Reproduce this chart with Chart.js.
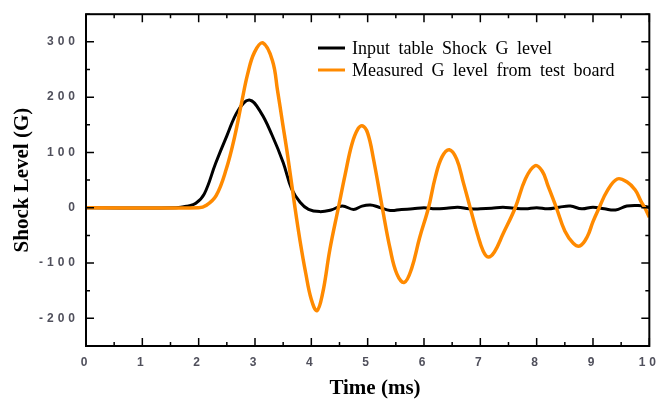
<!DOCTYPE html>
<html>
<head>
<meta charset="utf-8">
<script src="https://cdn.jsdelivr.net/npm/chart.js@4.4.1/dist/chart.umd.min.js"></script>
<style>
html, body { margin: 0; padding: 0; background: #fff; }
#wrap { width: 665px; height: 403px; }
</style>
</head>
<body>
<div id="wrap"><canvas id="shock"></canvas></div>
<script>
// values
var timeInput = [0, 1.6, 1.8, 1.95, 2.1, 2.3, 2.5, 2.7, 2.9, 3.1, 3.3, 3.5, 3.65, 3.8, 3.95, 4.15, 4.35, 4.55, 4.75, 4.9,
    5.05, 5.2, 5.4, 5.6, 5.8, 6.0, 6.2, 6.4, 6.6, 6.8, 7.0, 7.2, 7.4, 7.6, 7.8, 8.0, 8.2, 8.4, 8.6, 8.8,
    9.0, 9.2, 9.4, 9.6, 9.8, 10];
var gInput = [0, 0, 3, 8, 25, 80, 130, 176, 195, 173, 132, 82, 34, 10, -3, -7, -4, 3, -3, 3,
    5, 1, -5, -3, -2, 0, -2, -1, 1, -2, -2, -1, 1, -1, -2, 0, -2, 1, 3, -2,
    1, -2, -4, 3, 4, 1];

var timeMeasured = [0, 2.0, 2.13, 2.31, 2.49, 2.64, 2.76, 2.87, 2.99, 3.14, 3.31, 3.4, 3.49, 3.58, 3.71,
    3.8, 3.9, 4.0, 4.1, 4.2, 4.33, 4.48, 4.6, 4.72, 4.83, 4.91, 5.0, 5.1, 5.26, 5.4,
    5.52, 5.65, 5.78, 5.92, 6.08, 6.2, 6.32, 6.45, 6.58, 6.7, 6.82, 6.95, 7.05, 7.14, 7.25,
    7.4, 7.62, 7.8, 7.97, 8.1, 8.2, 8.35, 8.5, 8.65, 8.77, 8.9, 9.0, 9.11, 9.25, 9.43,
    9.6, 9.75, 9.85, 9.92, 10];
var gMeasured = [0, 0, 4, 22, 70, 129, 189, 242, 281, 298, 266, 212, 153, 94, 0,
    -60, -118, -166, -186, -155, -75, 0, 60, 115, 143, 148, 135, 90, 0, -75,
    -120, -135, -110, -55, 0, 55, 92, 105, 88, 45, 0, -48, -78, -89, -80,
    -48, 0, 52, 76, 66, 40, 0, -42, -64, -69, -52, -25, 0, 30, 52,
    47, 32, 12, 0, -17];

var xTicks = [0, 1, 2, 3, 4, 5, 6, 7, 8, 9, 10];
var yTicks = [-200, -100, 0, 100, 200, 300];
var seriesNames = ['Input table Shock G level', 'Measured G level from test board'];
var seriesColors = ['#000000', '#ff8a00'];
var xTitle = 'Time (ms)';
var yTitle = 'Shock Level (G)';

function pairs(xs, ys) {
    return xs.map(function (x, i) { return { x: x, y: ys[i] }; });
}

function setTicks(list) {
    return function (scale) {
        scale.ticks = list.map(function (v) { return { value: v }; });
    };
}

// box, inward ticks, axis titles and legend
var frame = {
    id: 'frame',
    beforeDraw: function (chart) {
        chart.ctx.letterSpacing = '4px';
    },
    afterDraw: function (chart) {
        var ctx = chart.ctx, a = chart.chartArea;
        var xs = chart.scales.x, ys = chart.scales.y;
        ctx.save();
        ctx.letterSpacing = '0px';
        ctx.strokeStyle = '#000';
        ctx.lineWidth = 2;
        ctx.strokeRect(a.left, a.top, a.right - a.left, a.bottom - a.top);

        ctx.lineWidth = 1.5;
        ctx.beginPath();
        xTicks.forEach(function (v, i) {
            var p = xs.getPixelForValue(v);
            ctx.moveTo(p, a.bottom); ctx.lineTo(p, a.bottom - 8);
            ctx.moveTo(p, a.top); ctx.lineTo(p, a.top + 8);
            if (i < xTicks.length - 1) {
                var m = xs.getPixelForValue((v + xTicks[i + 1]) / 2);
                ctx.moveTo(m, a.bottom); ctx.lineTo(m, a.bottom - 4);
                ctx.moveTo(m, a.top); ctx.lineTo(m, a.top + 4);
            }
        });
        var step = yTicks[1] - yTicks[0];
        for (var v = yTicks[0] - step / 2; v <= ys.max; v += step / 2) {
            var p = ys.getPixelForValue(v);
            var len = (yTicks.indexOf(v) >= 0) ? 8 : 4;
            ctx.moveTo(a.left, p); ctx.lineTo(a.left + len, p);
            ctx.moveTo(a.right, p); ctx.lineTo(a.right - len, p);
        }
        ctx.stroke();

        ctx.fillStyle = '#000';
        ctx.font = 'bold 21px "Liberation Serif"';
        ctx.textAlign = 'center';
        ctx.textBaseline = 'middle';
        ctx.fillText(xTitle, 375, 389);
        ctx.save();
        ctx.translate(23, (a.top + a.bottom) / 2);
        ctx.rotate(-Math.PI / 2);
        ctx.fillText(yTitle, 0, 0);
        ctx.restore();

        ctx.font = '18px "Liberation Serif"';
        ctx.textAlign = 'left';
        ctx.wordSpacing = '4px';
        ctx.lineWidth = 3;
        seriesNames.forEach(function (name, i) {
            var y = 48 + i * 22;
            ctx.strokeStyle = seriesColors[i];
            ctx.beginPath();
            ctx.moveTo(318, y); ctx.lineTo(345, y);
            ctx.stroke();
            ctx.fillText(name, 352, y + 1);
        });
        ctx.restore();
    }
};

Chart.defaults.font.family = '"Liberation Sans", Arial, sans-serif';

var ctx = document.getElementById('shock').getContext('2d');
var shock = new Chart(ctx, {
    type: 'line',
    data: {
        datasets: [{
            label: seriesNames[0],
            data: pairs(timeInput, gInput),
            borderColor: seriesColors[0],
            borderWidth: 3,
            pointRadius: 0,
            tension: 0.4,
            order: 1
        }, {
            label: seriesNames[1],
            data: pairs(timeMeasured, gMeasured),
            borderColor: seriesColors[1],
            borderWidth: 3.5,
            pointRadius: 0,
            tension: 0.4,
            order: 0
        }]
    },
    options: {
        responsive: true,
        maintainAspectRatio: false,
        animation: false,
        layout: {
            padding: { left: 0, right: 14, top: 10, bottom: 0 }
        },
        plugins: {
            legend: { display: false },
            tooltip: { enabled: false }
        },
        scales: {
            x: {
                type: 'linear',
                min: 0,
                max: 10,
                afterBuildTicks: setTicks(xTicks),
                afterFit: function (scale) { scale.height = 57; },
                grid: { display: false, drawTicks: false },
                border: { display: false },
                ticks: {
                    padding: 9,
                    color: '#50505c',
                    font: { size: 12, weight: 'bold' }
                }
            },
            y: {
                min: -250,
                max: 350,
                afterBuildTicks: setTicks(yTicks),
                afterFit: function (scale) { scale.width = 86; },
                grid: { display: false, drawTicks: false },
                border: { display: false },
                ticks: {
                    padding: 7,
                    color: '#50505c',
                    font: { size: 12, weight: 'bold' }
                }
            }
        }
    },
    plugins: [frame]
});
</script>
</body>
</html>
